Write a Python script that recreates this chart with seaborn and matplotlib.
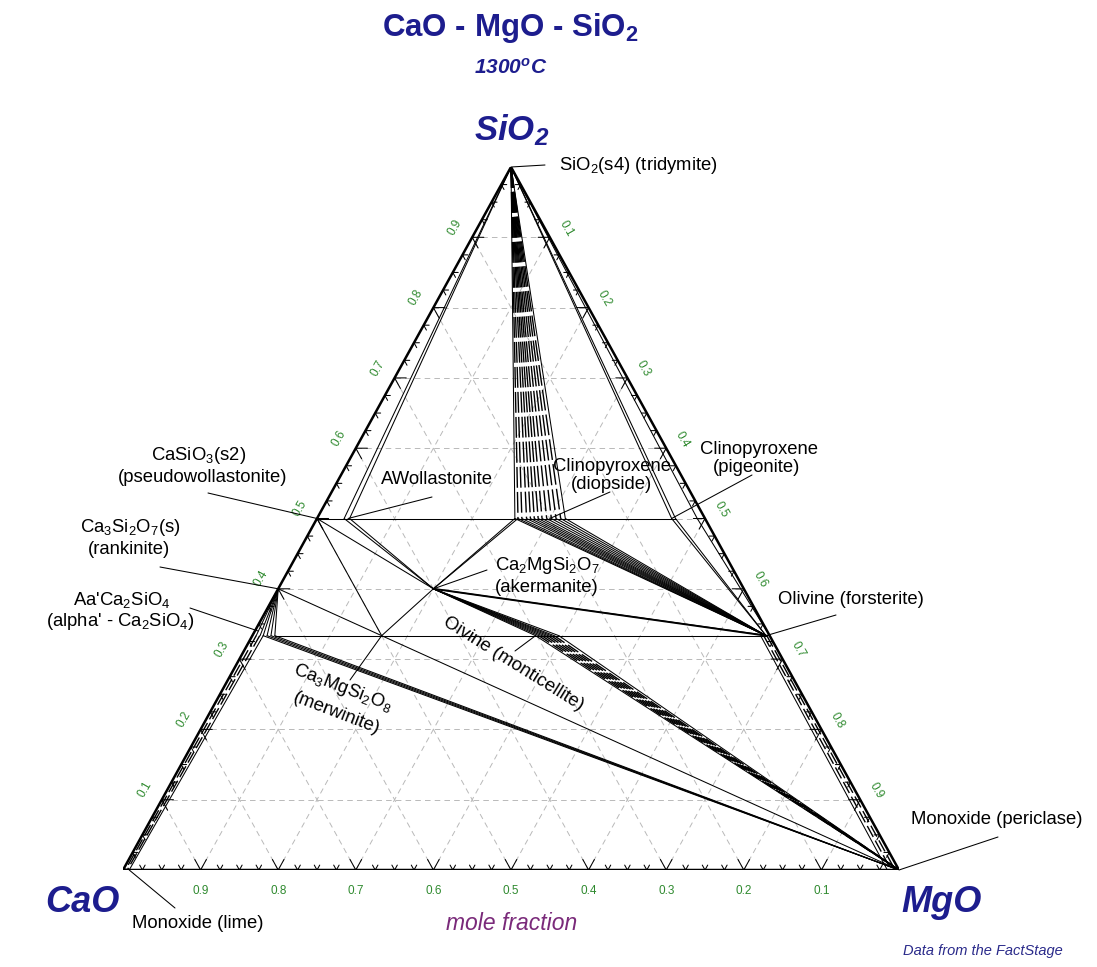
import numpy as np
import pandas as pd
import matplotlib
matplotlib.use("Agg")
import matplotlib.pyplot as plt
import seaborn as sns

# compositions as (x_MgO, x_SiO2); x_CaO is what is left
SIO2 = (0.0, 1.0)
CAO = (0.0, 0.0)
MGO = (1.0, 0.0)
WOLL = (0.0, 0.5)
AWOLL = [(0.035, 0.5), (0.042, 0.5)]
DIOP_MG = [0.255, 0.259, 0.264, 0.27, 0.275, 0.28, 0.285, 0.29, 0.296,
           0.302, 0.308, 0.314, 0.32]
PIGEON = [(0.457, 0.5), (0.462, 0.5)]
ENST = (0.49, 0.5)
RANK = (0.0, 0.4)
AKER = (0.2, 0.4)
C2S_MG = [0.0, 0.005, 0.01, 0.014, 0.019, 0.024, 0.029]
MERW = (1 / 6, 1 / 3)
MONT_MG = [0.365, 0.369, 0.373, 0.377, 0.381, 0.385, 0.389, 0.395]
FORST = (0.662, 1 / 3)
FORST_IN = (0.655, 1 / 3)
FORST_EDGE = (2 / 3, 1 / 3)
MGO_IN = (0.985, 0.0)
LIME_IN = (0.008, 0.0)

TICK_VALUES = [0.1, 0.2, 0.3, 0.4, 0.5, 0.6, 0.7, 0.8, 0.9]
MINOR_STEP = 0.025

W, H = 1097, 967
X0, Y0, XW, YH = 123, 870, 776, 703   # triangle corners in the picture


def tern(p):
    mg, si = p
    return mg + 0.5 * si, si


def pix(x, y):
    return (x - X0) / XW, (Y0 - y) / YH


rows = []


def seg(kind, *pts):
    sid = len(set(r[2] for r in rows))
    for p in pts:
        x, y = tern(p)
        rows.append((x, y, sid, kind))


# grid
for v in TICK_VALUES:
    seg('grid', (0, v), (1 - v, v))
    seg('grid', (v, 0), (v, 1 - v))
    seg('grid', (1 - v, 0), (0, 1 - v))

# ticks along the three edges
for t in np.arange(MINOR_STEP, 1, MINOR_STEP):
    t = round(t, 3)
    d = 0.015 if abs(t * 10 - round(t * 10)) < 1e-6 else 0.007
    seg('tick', (t, d), (t, 0), (t - d, d))
    seg('tick', (d, t), (0, t), (d, t - d))
    seg('tick', (t - d, 1 - t), (t, 1 - t), (t, 1 - t - d))

# triangle
seg('edge', CAO, MGO, SIO2, CAO)

# SiO2 side
for p in AWOLL + PIGEON:
    seg('thin', SIO2, p)
seg('thin', SIO2, ENST)
seg('thin', SIO2, (DIOP_MG[0], 0.5))
seg('thin', SIO2, (DIOP_MG[-1], 0.5))
for m in DIOP_MG[1:-1]:
    seg('dash', SIO2, (m, 0.5))

# tie lines x_SiO2 = 0.5 and 1/3
seg('thin', WOLL, (PIGEON[-1][0], 0.5))
seg('thin', (C2S_MG[-1], 1 / 3), FORST)

# wollastonite / akermanite / merwinite triangles
seg('thin', WOLL, AKER)
for p in AWOLL:
    seg('thin', p, AKER)
seg('thin', (DIOP_MG[0], 0.5), AKER)
seg('thin', (DIOP_MG[0] + 0.004, 0.5), AKER)
seg('thin', AKER, MERW)
seg('thin', WOLL, MERW)
seg('thin', RANK, MGO)
seg('mid', AKER, FORST)
seg('thin', AKER, (FORST[0] + 0.003, 1 / 3))

# diopside + forsterite
for m in DIOP_MG:
    seg('thin', (m, 0.5), FORST)
for p in PIGEON:
    seg('thin', p, FORST)
seg('thin', ENST, FORST_EDGE)

# rankinite + Ca2SiO4
for m in C2S_MG:
    seg('thin', RANK, (m, 1 / 3))
for m in C2S_MG[3:]:
    seg('thin', (m, 1 / 3), MGO)

# akermanite + monticellite, monticellite + periclase
for m in MONT_MG:
    seg('thin', AKER, (m, 1 / 3))
seg('thin', (MONT_MG[0], 1 / 3), MGO)
seg('thin', (MONT_MG[-1], 1 / 3), MGO)
for m in MONT_MG[1:-1]:
    seg('dash2', (m, 1 / 3), MGO)

# Ca2SiO4 + lime band, olivine + periclase band
seg('thin', (C2S_MG[3], 1 / 3), LIME_IN)
seg('dash2', (0.005, 1 / 3), (0.003, 0))
seg('dash2', (0.0095, 1 / 3), (0.0055, 0))
seg('thin', FORST_IN, MGO_IN)
seg('dash2', (0.659, 1 / 3), (0.99, 0))
seg('dash2', (0.663, 1 / 3), (0.995, 0))

df = pd.DataFrame(rows, columns=['x', 'y', 'seg', 'kind'])

sns.set_style("white")
plt.rcParams['font.family'] = ['Liberation Sans', 'DejaVu Sans']
plt.rcParams['mathtext.fontset'] = 'custom'
plt.rcParams['mathtext.rm'] = 'Liberation Sans'
plt.rcParams['mathtext.it'] = 'Liberation Sans:italic'
plt.rcParams['mathtext.bf'] = 'Liberation Sans:bold'
plt.rcParams['mathtext.bfit'] = 'Liberation Sans:italic:bold'
plt.rcParams['lines.scale_dashes'] = False

fig = plt.figure(figsize=(W / 100, H / 100), dpi=100)
ax = fig.add_axes([X0 / W, (H - Y0) / H, XW / W, YH / H])

styles = {
    'grid': dict(color='#b9b9b9', lw=0.7, ls=(0, (4, 3))),
    'tick': dict(color='k', lw=0.75),
    'edge': dict(color='k', lw=1.8),
    'thin': dict(color='k', lw=0.75),
    'mid': dict(color='k', lw=1.4),
    'dash': dict(color='k', lw=1.0, ls=(0, (15, 3))),
    'dash2': dict(color='k', lw=1.0, ls=(0, (9, 3))),
}
for kind, st in styles.items():
    sub = df[df['kind'] == kind]
    sns.lineplot(ax=ax, data=sub, x='x', y='y', units='seg', estimator=None,
                 sort=False, legend=False, **st)

ax.set_xlim(0, 1)
ax.set_ylim(0, 1)
ax.set_axis_off()

# axis tick labels
green = '#2f8a2f'
for v in TICK_VALUES:
    lab = f'{v:.1f}'
    ax.annotate(lab, xy=tern((1 - v, 0)), xytext=(0, -21), textcoords='offset pixels',
                ha='center', va='center', fontsize=8.5, color=green)
    ax.annotate(lab, xy=tern((0, v)), xytext=(-17, 10), textcoords='offset pixels',
                ha='center', va='center', fontsize=8.5, color=green, rotation=60)
    ax.annotate(lab, xy=tern((v, 1 - v)), xytext=(16, 9), textcoords='offset pixels',
                ha='center', va='center', fontsize=8.5, color=green, rotation=-60)

navy = '#1d1d8e'
txt = dict(clip_on=False)
ax.text(*pix(510, 28), 'CaO - MgO - SiO$_\\mathbf{2}$', ha='center', va='center',
        fontsize=22.5, fontweight='bold', color=navy, **txt)
ax.text(*pix(511, 68), '1300$^\\mathbfit{o}$C', ha='center', va='center',
        fontsize=15, fontweight='bold', style='italic', color=navy, **txt)
ax.text(*pix(512, 130), 'SiO$_\\mathbfit{2}$', ha='center', va='center',
        fontsize=25, fontweight='bold', style='italic', color=navy, **txt)
ax.text(*pix(82, 902), 'CaO', ha='center', va='center',
        fontsize=26, fontweight='bold', style='italic', color=navy, **txt)
ax.text(*pix(942, 902), 'MgO', ha='center', va='center',
        fontsize=26, fontweight='bold', style='italic', color=navy, **txt)
ax.text(*pix(512, 923), 'mole fraction', ha='center', va='center',
        fontsize=16.5, style='italic', color='#7a2a7a', **txt)
ax.text(*pix(983, 951), 'Data from the FactStage', ha='center', va='center',
        fontsize=10.5, style='italic', color='#2a2a8a', **txt)

# phase labels: text, position (px), alignment, rotation
labels = [
    ('SiO$_2$(s4) (tridymite)', (559, 165), 'left', 0),
    ('CaSiO$_3$(s2)', (199, 456), 'center', 0),
    ('(pseudowollastonite)', (203, 478), 'center', 0),
    ('AWollastonite', (437, 479), 'center', 0),
    ('Clinopyroxene', (612, 466), 'center', 0),
    ('(diopside)', (611, 484), 'center', 0),
    ('Clinopyroxene', (759, 449), 'center', 0),
    ('(pigeonite)', (757, 467), 'center', 0),
    ('Ca$_3$Si$_2$O$_7$(s)', (130, 528), 'center', 0),
    ('(rankinite)', (129, 550), 'center', 0),
    ("Aa'Ca$_2$SiO$_4$", (122, 600), 'center', 0),
    ("(alpha' - Ca$_2$SiO$_4$)", (120, 622), 'center', 0),
    ('Ca$_2$MgSi$_2$O$_7$', (547, 566), 'center', 0),
    ('(akermanite)', (547, 588), 'center', 0),
    ('Olivine (forsterite)', (778, 600), 'left', 0),
    ('Oivine (monticellite)', (513, 664), 'center', -32),
    ('Ca$_3$MgSi$_2$O$_8$', (343, 688), 'center', -21),
    ('(merwinite)', (337, 713), 'center', -21),
    ('Monoxide (periclase)', (911, 820), 'left', 0),
    ('Monoxide (lime)', (132, 924), 'left', 0),
]
for s, (x, y), ha, rot in labels:
    ax.text(*pix(x, y), s, ha=ha, va='center', fontsize=13.3, rotation=rot,
            rotation_mode='anchor', color='k', **txt)

# leader lines from label to phase
leaders = [
    ((545, 165), SIO2),
    ((208, 493), WOLL),
    ((432, 497), (0.04, 0.5)),
    ((610, 492), (0.30, 0.5)),
    ((752, 475), PIGEON[0]),
    ((160, 567), RANK),
    ((190, 608), (0.004, 0.34)),
    ((487, 570), AKER),
    ((836, 615), FORST),
    ((515, 651), (MONT_MG[0], 1 / 3)),
    ((350, 680), MERW),
    ((998, 837), MGO),
    ((175, 908), LIME_IN),
]
for (x, y), p in leaders:
    ax.annotate('', xy=tern(p), xytext=pix(x, y),
                arrowprops=dict(arrowstyle='-', lw=0.75, color='k',
                                shrinkA=0, shrinkB=0), annotation_clip=False)

fig.savefig('out.png', dpi=100)
